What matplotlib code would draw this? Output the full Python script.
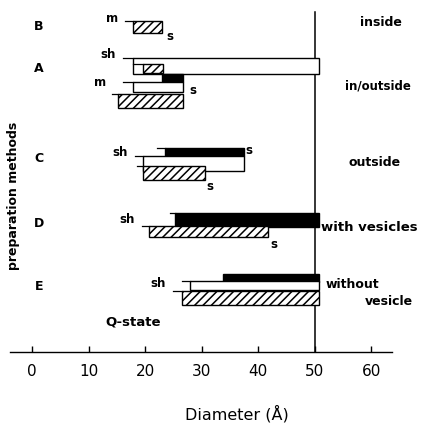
import numpy as np
from matplotlib import pyplot as plt

# diameters in Angstrom
bar_start = [17.9, 17.9, 19.6, 23.0, 17.9, 15.2,
             23.5, 19.6, 19.6,
             25.3, 20.7,
             33.8, 28.0, 26.5]
bar_end = [23.0, 50.8, 23.2, 26.7, 26.7, 26.7,
           37.5, 37.5, 30.6,
           50.8, 41.8,
           50.8, 50.8, 50.8]
lead_start = [16.5, 16.1, 17.9, 23.0, 16.1, 14.2,
              22.1, 18.2, 18.6,
              24.4, 19.5,
              33.8, 26.5, 25.0]
bar_kind = ["hatch", "white", "hatch", "black", "white", "hatch",
            "black", "white", "hatch",
            "black", "hatch",
            "black", "white", "hatch"]

methods = ["B", "A", "C", "D", "E"]
regions = ["inside", "in/outside", "outside", "with vesicles", "without", "vesicle"]
ref_diameter = 50
x_ticks = [0, 10, 20, 30, 40, 50, 60]

# layout: vertical extent of every bar (top, bottom), axis runs top->down
bar_rows = [(21, 33), (58, 74), (64, 73), (74, 82), (82, 92), (94, 108),
            (148, 156), (156, 171), (166, 180),
            (213, 227), (226, 237),
            (274, 282), (281, 290), (291, 305)]
method_y = [27, 68, 158, 224, 287]
region_pos = [(61.8, 22, "center", 9), (61.2, 86, "center", 8.5),
              (60.7, 163, "center", 9), (51.2, 228, "left", 9.5),
              (51.9, 285, "left", 9), (58.9, 302, "left", 9)]
small_labels = [("m", 14.2, 19), ("s", 24.4, 36), ("sh", 13.5, 55), ("m", 12.0, 82),
                ("s", 28.5, 91), ("sh", 15.6, 153), ("s", 38.4, 150), ("s", 31.5, 187),
                ("sh", 16.8, 220), ("s", 42.8, 245), ("sh", 22.3, 284)]

plt.rcParams['hatch.linewidth'] = 1.1
fig = plt.figure(figsize=(4.23, 4.30), dpi=100)
ax = fig.add_axes([10 / 423, (430 - 352) / 430, 382 / 423, 347 / 430])
ax.set_xlim(-3.9, 63.7)
ax.set_ylim(352, 5)

styles = {
    "hatch": dict(facecolor="white", hatch="////"),
    "white": dict(facecolor="white"),
    "black": dict(facecolor="black"),
}
for i in range(len(bar_start)):
    top, bot = bar_rows[i]
    ax.barh((top + bot) / 2, bar_end[i] - bar_start[i], left=bar_start[i],
            height=bot - top, edgecolor="black", linewidth=1.0,
            zorder=2 + i * 0.1, **styles[bar_kind[i]])
    if lead_start[i] < bar_start[i]:
        ax.plot([lead_start[i], bar_start[i]], [top, top], color="black",
                lw=0.9, zorder=2 + i * 0.1)

# reference line at 50 A
ax.plot([ref_diameter, ref_diameter], [12, 352], color="black", lw=1.1, zorder=1)

for m, y in zip(methods, method_y):
    ax.text(1.2, y, m, ha="center", va="center", fontsize=9, fontweight="bold")
for r, (x, y, ha, fs) in zip(regions, region_pos):
    ax.text(x, y, r, ha=ha, va="center", fontsize=fs, fontweight="bold")
for lab, x, y in small_labels:
    ax.text(x, y, lab, ha="center", va="center", fontsize=8.5, fontweight="bold")
ax.text(12.9, 322, "Q-state", ha="left", va="center", fontsize=9.5, fontweight="bold")

ax.text(-3.2, 196, "preparation methods", rotation=90, ha="center", va="center",
        fontsize=9, fontweight="bold")
ax.text(36.3, 414, "Diameter (Å)", ha="center", va="center", fontsize=11.5)

for s in ["top", "right", "left"]:
    ax.spines[s].set_visible(False)
ax.spines["bottom"].set_linewidth(1.0)
ax.set_yticks([])
ax.set_xticks(x_ticks)
ax.tick_params(axis="x", direction="in", length=4, width=1.0, pad=9, labelsize=11)

fig.savefig("out.png", dpi=100)
